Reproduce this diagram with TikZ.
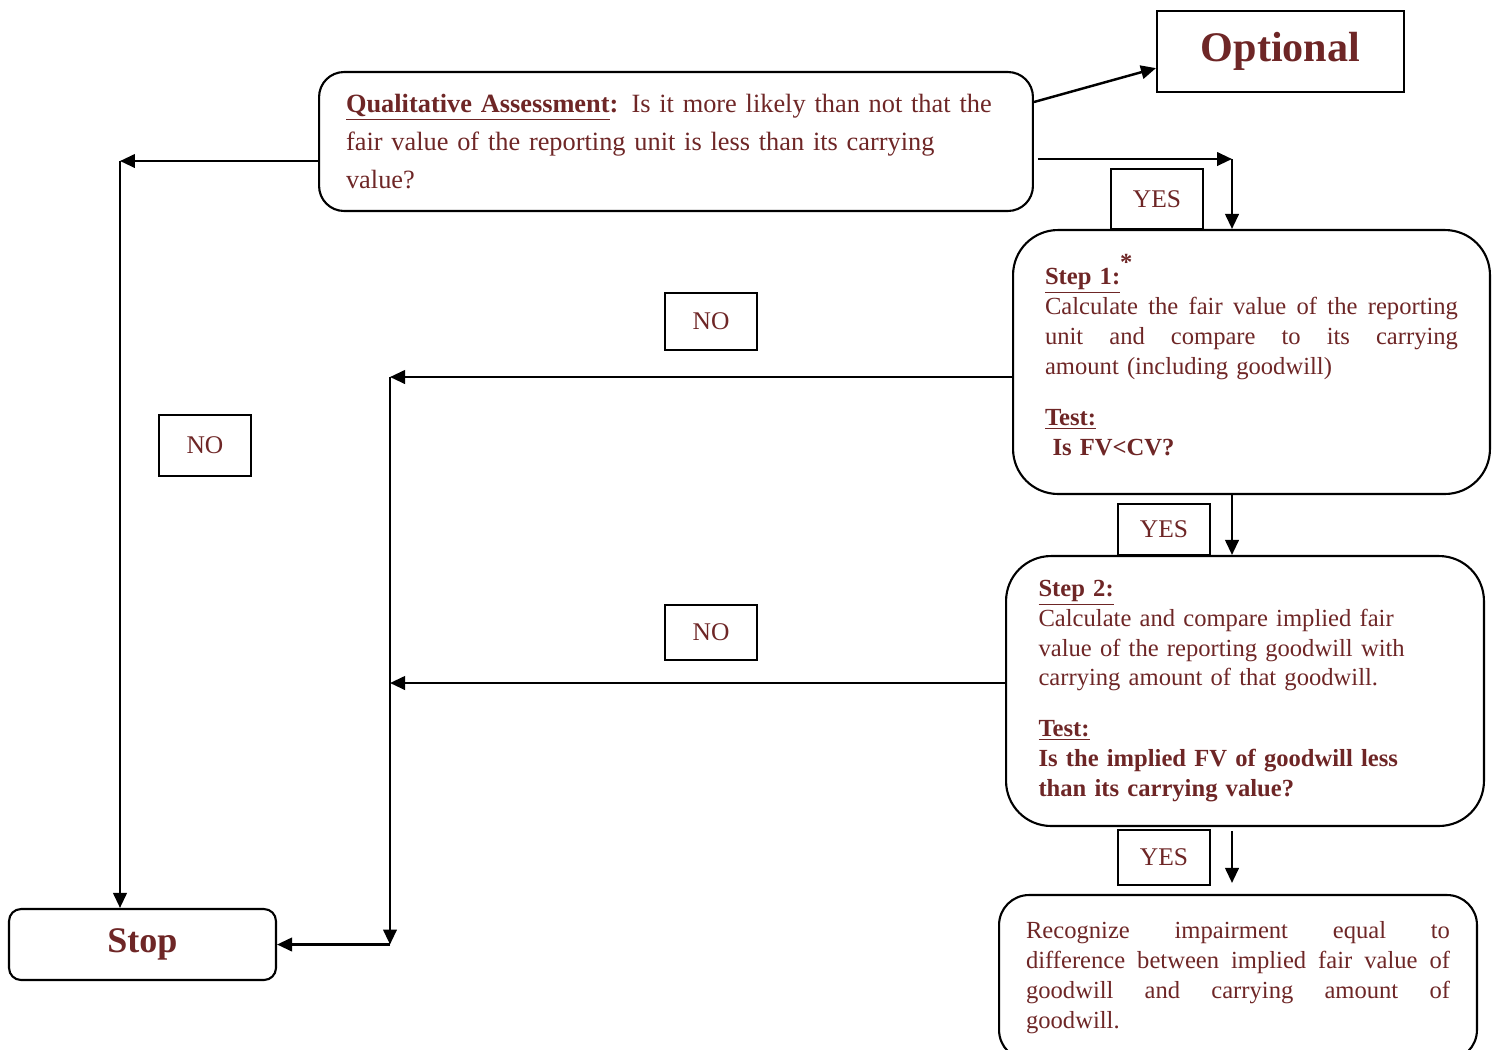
\documentclass[tikz,border=0pt]{standalone}
\usepackage{fontspec}
\setmainfont{Liberation Serif}
\usetikzlibrary{arrows.meta,calc}
\definecolor{darkred}{RGB}{110,38,38}
\newcommand{\jline}[1]{\makebox[\linewidth][s]{\spaceskip=.25em plus 1fil\relax #1}}

\begin{document}
\begin{tikzpicture}[x=0.02cm,y=-0.02cm,
    every node/.style={text=darkred,font=\fontsize{14}{17}\selectfont},
    box/.style={draw,line width=1.2pt,rounded corners=#1,align=left,inner sep=0pt},
    lbl/.style={draw,line width=1.2pt,minimum width=1.84cm,font=\fontsize{14.5}{17}\selectfont},
    arr/.style={line width=1.4pt,-{Triangle[length=3mm,width=2.7mm]}}]
  \useasboundingbox (0,0) rectangle (1497,1049);

  \node[draw,line width=1.2pt,minimum width=4.94cm,minimum height=1.62cm,
        font=\fontsize{24}{28}\selectfont\bfseries] (opt) at (1280.5,51.5) {Optional};
  \node[box=0.5cm,minimum width=14.28cm,minimum height=2.78cm,text width=13.2cm,
        font=\fontsize{15}{21.6}\selectfont] (qual) at (676,141.5)
        {\textbf{\underline{Qualitative Assessment}:} Is it more likely than not that the\\
         fair value of the reporting unit is less than its carrying\\
         value?};
  \node[box=0.9cm,minimum width=9.54cm,minimum height=5.28cm,text width=8.26cm] (step1) at (1251.5,362)
        {\textbf{\underline{Step 1:}}\smash{\raisebox{1.3ex}{\textbf{*}}}\\
         \jline{Calculate the fair value of the reporting}\\
         \jline{unit and compare to its carrying}\\
         amount (including goodwill)\\[12pt]
         \textbf{\underline{Test:}}\\
         \hspace*{0.15cm}\textbf{Is FV<CV?}};
  \node[box=0.9cm,minimum width=9.56cm,minimum height=5.4cm,text width=8.26cm] (step2) at (1245,691)
        {\textbf{\underline{Step 2:}}\\
         Calculate and compare implied fair\\
         value of the reporting goodwill with\\
         carrying amount of that goodwill.\\[12pt]
         \textbf{\underline{Test:}}\\
         \textbf{Is the implied FV of goodwill less}\\
         \textbf{than its carrying value?}};
  \node[box=0.6cm,minimum width=9.56cm,minimum height=3.3cm,text width=8.48cm] (impair) at (1238,977.5)
        {\jline{Recognize impairment equal to}\\
         \jline{difference between implied fair value of}\\
         \jline{goodwill and carrying amount of}\\
         goodwill.};
  \node[box=0.24cm,minimum width=5.34cm,minimum height=1.42cm,
        font=\fontsize{20.5}{24}\selectfont\bfseries] (stop) at (142.5,944.5) {Stop};

  \node[lbl,minimum height=1.2cm] (yes1) at (1157,199) {YES};
  \node[lbl,minimum height=1.14cm] (no1) at (711,321.5) {NO};
  \node[lbl,minimum height=1.22cm] (no0) at (205,445.5) {NO};
  \node[lbl,minimum height=1.02cm] (yes2) at (1164,529.5) {YES};
  \node[lbl,minimum height=1.1cm] (no2) at (711,632.5) {NO};
  \node[lbl,minimum height=1.1cm] (yes3) at (1164,857.5) {YES};

  \coordinate (qout) at ($(qual.north east)!0.22!(qual.south east)$);
  \coordinate (optin) at ($(opt.north west)!0.7!(opt.south west)$);
  \coordinate (ycol) at (1232,159);
  \coordinate (lcol) at (120,161);
  \coordinate (n1) at (390,377);
  \coordinate (n2) at (390,683);
  \coordinate (mcol) at (390,944.5);

  \draw[arr] (qout) -- (optin);
  \draw[arr] ([xshift=0.08cm]qual.east |- ycol) -- (ycol);
  \draw[arr] (ycol) -- (ycol |- step1.north);
  \draw[arr] (qual.west |- lcol) -- (lcol);
  \draw[arr] (lcol) -- (lcol |- stop.north);
  \draw[arr] (step1.west |- n1) -- (n1);
  \draw[arr] (step2.west |- n2) -- (n2);
  \draw[arr] (n1) -- (mcol);
  \draw[arr] (mcol) -- (stop.east);
  \draw[arr] (ycol |- step1.south) -- (ycol |- step2.north);
  \draw[arr] ([yshift=-0.08cm]ycol |- step2.south) -- ([yshift=0.22cm]ycol |- impair.north);
\end{tikzpicture}
\end{document}
